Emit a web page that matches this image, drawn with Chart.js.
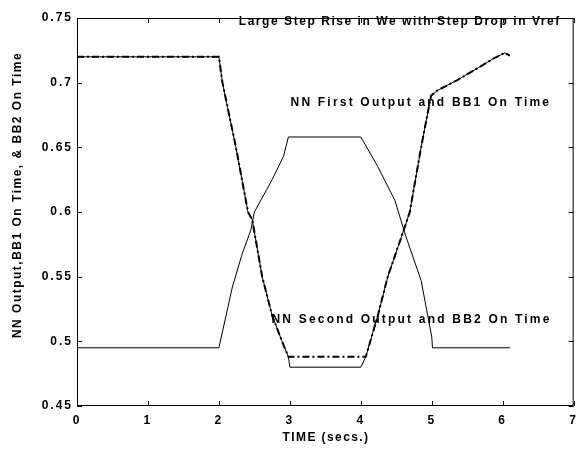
<!DOCTYPE html>
<html>
<head>
<meta charset="utf-8">
<script src="https://cdn.jsdelivr.net/npm/chart.js@4/dist/chart.umd.min.js"></script>
<style>
html,body{margin:0;padding:0;background:#fff;}
#wrap{width:584px;height:450px;position:relative;}
</style>
</head>
<body>
<div id="wrap"><canvas id="c" width="584" height="450"></canvas></div>
<script>
// ---- data ----
const xTicks = [0, 1, 2, 3, 4, 5, 6, 7];
const yTicks = [0.45, 0.5, 0.55, 0.6, 0.65, 0.7, 0.75];

// NN first output (dash-dot)
const nn1Time = [0, 2.0, 2.05, 2.24, 2.41, 2.47, 2.61, 2.75, 2.89, 2.98, 4.07, 4.24, 4.38, 4.63, 4.69, 4.85, 4.99, 5.08, 5.36, 5.64, 5.88, 6.03, 6.1];
const nn1Val  = [0.72, 0.72, 0.70, 0.65, 0.60, 0.594, 0.55, 0.52, 0.50, 0.488, 0.488, 0.52, 0.55, 0.59, 0.60, 0.65, 0.69, 0.694, 0.702, 0.711, 0.719, 0.723, 0.721];

// BB1 on time (solid)
const bb1Time = [0, 2.0, 2.05, 2.24, 2.41, 2.47, 2.61, 2.75, 2.89, 2.98, 3.0, 4.0, 4.07, 4.24, 4.38, 4.63, 4.69, 4.85, 4.99, 5.08, 5.36, 5.64, 5.88, 6.03, 6.1];
const bb1Val  = [0.72, 0.72, 0.70, 0.65, 0.60, 0.594, 0.55, 0.52, 0.50, 0.488, 0.48, 0.48, 0.488, 0.52, 0.55, 0.59, 0.60, 0.65, 0.69, 0.694, 0.702, 0.711, 0.719, 0.723, 0.721];

// NN second output and BB2 on time (solid)
const out2Time = [0, 2.0, 2.19, 2.33, 2.45, 2.50, 2.75, 2.91, 2.98, 4.0, 4.24, 4.48, 4.63, 4.85, 5.0, 5.01, 6.1];
const out2Val  = [0.495, 0.495, 0.542, 0.568, 0.586, 0.60, 0.625, 0.643, 0.658, 0.658, 0.635, 0.609, 0.582, 0.547, 0.5035, 0.495, 0.495];

const titleText = 'Large Step Rise in We with Step Drop in Vref';
const label1 = 'NN First Output and BB1 On Time';
const label2 = 'NN Second Output and BB2 On Time';
const xTitle = 'TIME (secs.)';
const yTitle = 'NN Output,BB1 On Time, & BB2 On Time';

const pts = (t, v) => t.map((x, i) => ({x: x, y: v[i]}));

const FONT = "'Liberation Sans', Arial, sans-serif";

const frame = {
  id: 'frame',
  beforeDraw(chart) {
    chart.ctx.letterSpacing = '2px';
  },
  afterDraw(chart) {
    const {ctx, chartArea: a, scales: {x, y}} = chart;
    ctx.save();
    ctx.strokeStyle = '#000';
    ctx.lineWidth = 1;
    ctx.strokeRect(a.left + 0.5, a.top + 0.5, a.right - a.left - 1, a.bottom - a.top - 1);
    const L = 5;
    ctx.beginPath();
    xTicks.forEach(v => {
      const px = Math.round(x.getPixelForValue(v)) + 0.5;
      ctx.moveTo(px, a.bottom); ctx.lineTo(px, a.bottom - L);
      ctx.moveTo(px, a.top); ctx.lineTo(px, a.top + L);
    });
    yTicks.forEach(v => {
      const py = Math.round(y.getPixelForValue(v)) + 0.5;
      ctx.moveTo(a.left, py); ctx.lineTo(a.left + L, py);
      ctx.moveTo(a.right, py); ctx.lineTo(a.right - L, py);
    });
    ctx.stroke();
    // annotations
    ctx.fillStyle = '#000';
    ctx.textBaseline = 'middle';
    ctx.textAlign = 'left';
    ctx.font = 'bold 12px ' + FONT;
    ctx.letterSpacing = '1.55px';
    ctx.fillText(titleText, x.getPixelForValue(2.28), y.getPixelForValue(0.7475));
    ctx.letterSpacing = '2.2px';
    ctx.fillText(label1, x.getPixelForValue(3.01), y.getPixelForValue(0.6845));
    ctx.fillText(label2, x.getPixelForValue(2.74), y.getPixelForValue(0.517));
    // axis titles
    ctx.textAlign = 'center';
    ctx.letterSpacing = '1.4px';
    ctx.fillText(xTitle, 326, 438);
    ctx.save();
    ctx.translate(18, 195);
    ctx.rotate(-Math.PI / 2);
    ctx.font = 'bold 12px ' + FONT;
    ctx.letterSpacing = '1.5px';
    ctx.fillText(yTitle, 0, 0);
    ctx.restore();
    ctx.restore();
  }
};

new Chart(document.getElementById('c'), {
  type: 'line',
  data: {
    datasets: [
      {data: pts(out2Time, out2Val), borderColor: '#000', borderWidth: 1, pointRadius: 0, tension: 0, fill: false},
      {data: pts(bb1Time, bb1Val), borderColor: '#000', borderWidth: 1, pointRadius: 0, tension: 0, fill: false},
      {data: pts(nn1Time, nn1Val), borderColor: '#000', borderWidth: 2, borderDash: [7, 3, 2, 3], pointRadius: 0, tension: 0, fill: false}
    ]
  },
  options: {
    responsive: false,
    animation: false,
    events: [],
    layout: {padding: {top: 18, right: 7, left: 0, bottom: 0}},
    plugins: {legend: {display: false}, tooltip: {enabled: false}},
    scales: {
      x: {
        type: 'linear', min: 0, max: 7,
        afterBuildTicks(s) { s.ticks = xTicks.map(v => ({value: v})); },
        afterFit(s) { s.height = 44; },
        grid: {display: false, drawTicks: false},
        border: {display: false},
        ticks: {color: '#000', font: {family: FONT, size: 12, weight: 'bold'}, padding: 7, maxRotation: 0,
                callback: v => String(v)},
        title: {display: false}
      },
      y: {
        type: 'linear', min: 0.45, max: 0.75,
        afterBuildTicks(s) { s.ticks = yTicks.map(v => ({value: v})); },
        afterFit(s) { s.width = 77; },
        grid: {display: false, drawTicks: false},
        border: {display: false},
        ticks: {color: '#000', font: {family: FONT, size: 12, weight: 'bold'}, padding: 4,
                callback: v => String(parseFloat(v.toFixed(2)))},
        title: {display: false}
      }
    }
  },
  plugins: [frame]
});
</script>
</body>
</html>
